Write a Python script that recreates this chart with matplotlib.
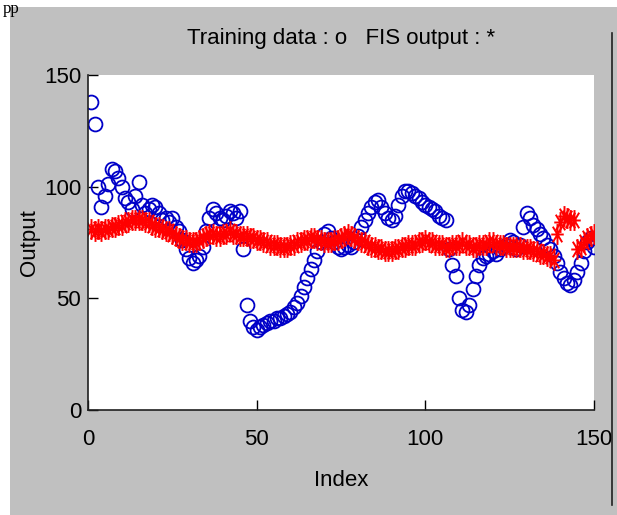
import matplotlib
matplotlib.use("Agg")
import matplotlib.pyplot as plt
from matplotlib.patches import Rectangle
from matplotlib.lines import Line2D
from matplotlib.path import Path
import numpy as np

# ---- data ----
index = list(range(1, 151))
training = [
    138, 128, 100, 91, 96, 101, 108, 107, 104, 100,
    95, 93, 90, 96, 102, 92, 88, 90, 92, 91,
    88, 85, 86, 84, 86, 82, 80, 76, 72, 68,
    66, 67, 69, 73, 80, 86, 90, 88, 86, 85,
    87, 89, 88, 86, 89, 72, 47, 40, 37, 36,
    37, 38, 39, 40, 40, 41, 41, 42, 43, 44,
    46, 48, 51, 55, 59, 63, 67, 71, 75, 79,
    80, 77, 75, 73, 72, 73, 74, 73, 75, 78,
    82, 85, 88, 91, 93, 94, 91, 88, 86, 85,
    87, 92, 96, 98, 98, 97, 96, 95, 93, 92,
    91, 90, 89, 87, 86, 85, 72, 65, 60, 50,
    45, 44, 47, 54, 60, 65, 68, 69, 70, 71,
    70, 72, 73, 74, 76, 75, 72, 74, 82, 88,
    86, 83, 81, 79, 77, 74, 72, 69, 66, 62,
    59, 57, 56, 58, 62, 66, 71, 75, 77, 73,
]
fis_output = [
    81, 80, 81, 80, 81, 81, 82, 82, 83, 83,
    84, 84, 85, 85, 85, 85, 84, 84, 83, 82,
    82, 81, 80, 80, 79, 78, 77, 76, 76, 75,
    75, 75, 76, 77, 78, 79, 79, 78, 78, 79,
    79, 80, 79, 79, 78, 78, 78, 77, 77, 76,
    76, 75, 75, 74, 74, 74, 73, 73, 73, 74,
    74, 75, 75, 76, 76, 77, 77, 76, 76, 75,
    75, 75, 76, 76, 77, 78, 79, 78, 77, 76,
    75, 75, 74, 73, 73, 72, 72, 71, 71, 71,
    72, 72, 73, 73, 74, 74, 74, 75, 75, 76,
    75, 75, 74, 74, 74, 73, 73, 74, 74, 74,
    75, 74, 74, 73, 73, 74, 74, 74, 75, 75,
    74, 74, 74, 73, 73, 73, 73, 73, 72, 72,
    72, 71, 71, 70, 70, 69, 69, 67, 79, 84,
    87, 86, 85, 85, 72, 73, 75, 77, 78, 79,
]
xticks = [0, 50, 100, 150]
yticks = [0, 50, 100, 150]

plt.rcParams['font.family'] = ['Liberation Sans', 'DejaVu Sans']

# MATLAB-like asterisk, slightly taller than wide
_ast = Path(
    [(0, -1), (0, 1), (-0.6, 0), (0.6, 0),
     (-0.45, -0.75), (0.45, 0.75), (-0.45, 0.75), (0.45, -0.75)],
    [Path.MOVETO, Path.LINETO] * 4)

W, H = 617, 515
fig = plt.figure(figsize=(W / 100, H / 100), dpi=100, facecolor='white')

# grey MATLAB figure background
fig.patches.append(Rectangle((10 / W, 0), 1 - 10 / W, (H - 7) / H,
                             transform=fig.transFigure, facecolor='#c0c0c0',
                             edgecolor='none', zorder=-10))
fig.lines.append(Line2D([612 / W, 612 / W], [1 - 505 / H, 1 - 33 / H],
                        transform=fig.transFigure, color='#202020', lw=1.2))
fig.text(3 / W, 1 - 1 / H, 'pp', family=['Liberation Serif', 'DejaVu Serif'],
         fontsize=12, va='top', ha='left', color='black', zorder=5)

ax = fig.add_axes([88 / W, 1 - 410 / H, (594 - 88) / W, (410 - 75) / H])
ax.set_facecolor('white')

ax.plot(index, training, linestyle='none', marker='o', markersize=10,
        markerfacecolor='none', markeredgecolor='#0000c8', markeredgewidth=1.3)
ax.plot(index, fis_output, linestyle='none', marker=_ast, markersize=15,
        color='#ff0000', markeredgewidth=1.4)

ax.set_xlim(0, 150)
ax.set_ylim(0, 150)
ax.set_xticks(xticks)
ax.set_yticks(yticks)
ax.tick_params(direction='in', length=7, width=1, labelsize=16, colors='black')
ax.tick_params(axis='x', pad=14)
ax.tick_params(axis='y', pad=5)
for s in ['top', 'right']:
    ax.spines[s].set_visible(False)
for s in ['left', 'bottom']:
    ax.spines[s].set_linewidth(1.2)
    ax.spines[s].set_color('#202020')

ax.set_xlabel('Index', fontsize=16, labelpad=14)
ax.set_ylabel('Output', fontsize=16, labelpad=3)
ax.set_title('Training data : o   FIS output : *', fontsize=16, pad=22)

fig.savefig('out.png', dpi=100, facecolor='white')
